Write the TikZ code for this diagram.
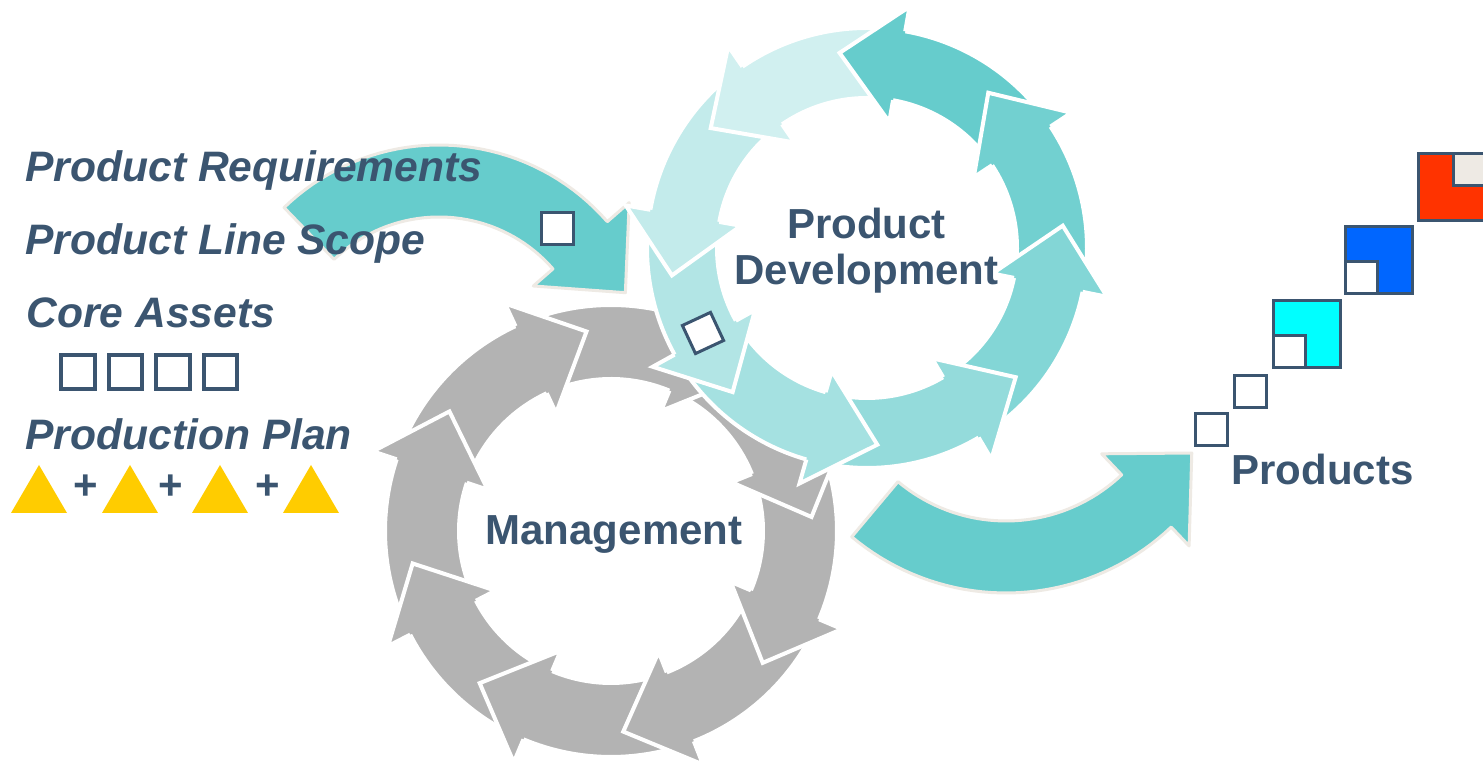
\documentclass[tikz,border=0pt]{standalone}
\usepackage{fontspec}
\setmainfont{Liberation Sans}
\definecolor{txt}{HTML}{3B5570}
\definecolor{tealA}{HTML}{66CCCC}
\definecolor{grayA}{HTML}{B3B3B3}
\definecolor{beige}{HTML}{EEEAE4}
\definecolor{yel}{HTML}{FFCC00}
\definecolor{redA}{HTML}{FF3300}
\definecolor{blueA}{HTML}{0066FF}
\definecolor{cyanA}{HTML}{00FFFF}
\tikzset{
  headline/.style={white, line width=2pt, line join=miter},
  lbl/.style={text=txt, inner sep=0pt, font=\fontsize{21pt}{23pt}\selectfont\bfseries},
  ilbl/.style={text=txt, inner sep=0pt, font=\fontsize{21.3pt}{23pt}\selectfont\bfseries\itshape},
  sq/.style={draw=txt, fill=white, line width=1.5pt, inner sep=0pt, minimum size=16pt},
  bigsq/.style={draw=txt, line width=1.5pt, inner sep=0pt, minimum size=33.5pt},
  asq/.style={draw=txt, fill=white, line width=2pt, inner sep=0pt, minimum size=16.8pt},
  bentline/.style={draw=beige, line width=1.5pt, line join=round},
}
% #1 cx  #2 cy  #3 rin  #4 rout  #5 start  #6 barb  #7 tip  #8 colour
\newcommand{\ringbody}[8]{%
  \pgfmathsetmacro\rbEnd{#6+0.02*(#6-(#5))}%
  \fill[#8] plot[domain=#5:\rbEnd,samples=36,variable=\t] ({#1+#4*cos(\t)},{#2+#4*sin(\t)})
    -- plot[domain=\rbEnd:#5,samples=36,variable=\t] ({#1+#3*cos(\t)},{#2+#3*sin(\t)}) -- cycle;
  \draw[headline] plot[domain=#5:\rbEnd,samples=36,variable=\t] ({#1+#4*cos(\t)},{#2+#4*sin(\t)});
  \draw[headline] plot[domain=#5:\rbEnd,samples=36,variable=\t] ({#1+#3*cos(\t)},{#2+#3*sin(\t)});
}
\newcommand{\ringhead}[8]{%
  \coordinate (hA) at ({#1+#4*cos(#6)},{#2+#4*sin(#6)});
  \coordinate (hB) at ({#1+(#4+25)*cos(#6)},{#2+(#4+25)*sin(#6)});
  \coordinate (hC) at ({#1+((#3+#4)/2+12)*cos(#7)},{#2+((#3+#4)/2+12)*sin(#7)});
  \coordinate (hD) at ({#1+(#3-22)*cos(#6)},{#2+(#3-22)*sin(#6)});
  \coordinate (hE) at ({#1+#3*cos(#6)},{#2+#3*sin(#6)});
  \fill[#8] (hA)--(hB)--(hC)--(hD)--(hE)--cycle;
  \draw[headline] (hA)--(hB)--(hC)--(hD)--(hE);
}
\begin{document}
\begin{tikzpicture}[x=0.5pt,y=0.5pt]
\clip (0,0) rectangle (1483,763);
\fill[white] (0,0) rectangle (1483,763);

% ---------- Management ring (grey, clockwise) ----------
\ringbody{611}{232}{152}{226}{160.5}{115}{97}{grayA}
\ringbody{611}{232}{152}{226}{206.3}{161.5}{143.5}{grayA}
\ringbody{611}{232}{152}{226}{246.2}{207.3}{189.3}{grayA}
\ringbody{611}{232}{152}{226}{290.5}{247.2}{229.2}{grayA}
\ringbody{611}{232}{152}{226}{336}{291.5}{273.5}{grayA}
\ringbody{611}{232}{152}{226}{381}{337}{319}{grayA}
\ringbody{611}{232}{152}{226}{426.4}{382}{364}{grayA}
\ringbody{611}{232}{152}{226}{474}{427.4}{409.4}{grayA}
\ringhead{611}{232}{152}{226}{160.5}{115}{97}{grayA}
\ringhead{611}{232}{152}{226}{206.3}{161.5}{143.5}{grayA}
\ringhead{611}{232}{152}{226}{246.2}{207.3}{189.3}{grayA}
\ringhead{611}{232}{152}{226}{290.5}{247.2}{229.2}{grayA}
\ringhead{611}{232}{152}{226}{336}{291.5}{273.5}{grayA}
\ringhead{611}{232}{152}{226}{381}{337}{319}{grayA}
\ringhead{611}{232}{152}{226}{426.4}{382}{364}{grayA}
\ringhead{611}{232}{152}{226}{474}{427.4}{409.4}{grayA}

% ---------- input arrow ----------
\filldraw[fill=tealA, bentline]
  plot[domain=134:41,samples=40,variable=\t] ({439+223*cos(\t)},{395+223*sin(\t)})
  -- ({439+252*cos(41)},{395+252*sin(41)})
  -- ({439+201*cos(22)},{395+201*sin(22)})
  -- ({439+125*cos(41)},{395+125*sin(41)})
  -- plot[domain=41:134,samples=40,variable=\t] ({439+151*cos(\t)},{395+151*sin(\t)}) -- cycle;
\node[sq] (inbox) at (557.5,534.5) {};

% ---------- Product Development ring (teal, counter-clockwise) ----------
\ringbody{867}{515}{150}{220}{-10.5}{33.5}{52}{tealA!92!white}
\ringbody{867}{515}{150}{220}{34.5}{80}{98}{tealA}
\ringbody{867}{515}{150}{220}{81}{124.5}{142.5}{tealA!30!white}
\ringbody{867}{515}{150}{220}{125.5}{170}{188}{tealA!39!white}
\ringbody{867}{515}{150}{220}{171}{209}{227}{tealA!50!white}
\ringbody{867}{515}{150}{220}{210}{254}{273}{tealA!59!white}
\ringbody{867}{515}{150}{220}{255}{300.5}{319}{tealA!70!white}
\ringbody{867}{515}{150}{220}{301.5}{348.5}{366.5}{tealA!81!white}
\ringhead{867}{515}{150}{220}{-10.5}{33.5}{52}{tealA!92!white}
\ringhead{867}{515}{150}{220}{34.5}{80}{98}{tealA}
\ringhead{867}{515}{150}{220}{81}{124.5}{142.5}{tealA!30!white}
\ringhead{867}{515}{150}{220}{125.5}{170}{188}{tealA!39!white}
\ringhead{867}{515}{150}{220}{171}{209}{227}{tealA!50!white}
\ringhead{867}{515}{150}{220}{210}{254}{273}{tealA!59!white}
\ringhead{867}{515}{150}{220}{255}{300.5}{319}{tealA!70!white}
\ringhead{867}{515}{150}{220}{301.5}{348.5}{366.5}{tealA!81!white}
\node[sq, rotate=25, minimum size=15.5pt] (dm) at (703,430) {};

% ---------- output arrow ----------
\filldraw[fill=tealA, bentline]
  plot[domain=-130:-46.5,samples=40,variable=\t] ({1006+240*cos(\t)},{410+240*sin(\t)})
  -- ({1006+266*cos(-46.5)},{410+266*sin(-46.5)})
  -- ({1006+211*cos(-28.3)},{410+211*sin(-28.3)})
  -- ({1006+139*cos(-46.5)},{410+139*sin(-46.5)})
  -- plot[domain=-46.5:-130,samples=40,variable=\t] ({1006+168*cos(\t)},{410+168*sin(\t)}) -- cycle;

% ---------- products ----------
\node[sq] (p1) at (1211,333.5) {};
\node[sq] (p2) at (1250.5,371.5) {};
\node[bigsq, fill=cyanA] (p3) at (1307,428.5) {};
\node[sq, anchor=south west] (p3i) at (p3.south west) {};
\node[bigsq, fill=blueA] (p4) at (1378.5,502.5) {};
\node[sq, anchor=south west] (p4i) at (p4.south west) {};
\node[bigsq, fill=redA] (p5) at (1452,576) {};
\node[sq, fill=beige, anchor=north east] (p5i) at (p5.north east) {};

% ---------- left column ----------
\node[asq] (ca1) at (78,391) {};
\node[asq] (ca2) at (125.5,391) {};
\node[asq] (ca3) at (173,391) {};
\node[asq] (ca4) at (220.5,391) {};
\fill[yel] (11,250) -- (67,250) -- (39,298) -- cycle;
\fill[yel] (102,250) -- (158,250) -- (130,298) -- cycle;
\fill[yel] (192,250) -- (248,250) -- (220,298) -- cycle;
\fill[yel] (283,250) -- (339,250) -- (311,298) -- cycle;
\node[lbl] (pl1) at (86,276) {+};
\node[lbl] (pl2) at (171,276) {+};
\node[lbl] (pl3) at (268,276) {+};

% ---------- texts ----------
\node[ilbl, anchor=base west] (req) at (25,581) {Product Requirements};
\node[ilbl, anchor=base west] (scope) at (25,508) {Product Line Scope};
\node[ilbl, anchor=base west] (core) at (26,435) {Core Assets};
\node[ilbl, anchor=base west] (plan) at (25,313) {Production Plan};
\node[lbl, align=center, anchor=north] (pd) at (866.5,555) {Product\\Development};
\node[lbl, anchor=base] (mg) at (614,218) {Management};
\node[lbl, anchor=base west] (prod) at (1231,278) {Products};
\end{tikzpicture}
\end{document}
